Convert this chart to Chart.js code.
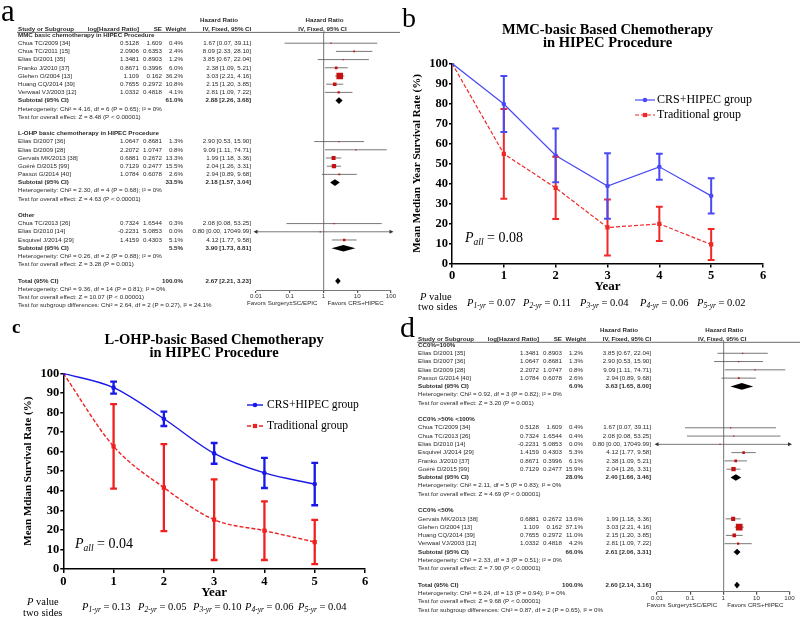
<!DOCTYPE html>
<html>
<head>
<meta charset="utf-8">
<title>CRS+HIPEC meta-analysis</title>
<script src="https://cdn.jsdelivr.net/npm/chart.js@4.4.1/dist/chart.umd.min.js"></script>
<style>
  html, body { margin: 0; padding: 0; background: #fff; }
  #page { position: relative; width: 800px; height: 624px; overflow: hidden; background: #fff; }
  canvas { position: absolute; }
</style>
</head>
<body>
<div id="page">
  <canvas id="chart-a" width="400" height="310" style="left:0;top:0"></canvas>
  <canvas id="chart-b" width="400" height="310" style="left:400px;top:0"></canvas>
  <canvas id="chart-c" width="400" height="314" style="left:0;top:310px"></canvas>
  <canvas id="chart-d" width="400" height="314" style="left:400px;top:310px"></canvas>
</div>
<script>
const SERIF = '"Liberation Serif", "Times New Roman", serif';
const SANS = '"Liberation Sans", Arial, sans-serif';

// forest axis ticks
const forestTicks = [0.01, 0.1, 1, 10, 100];

// ---- panel a: by agent used in HIPEC ----
// [study, log[HR], SE, weight %, HR, low, high]
const aGroupNames = ["MMC basic chemotherapy in HIPEC Procedure", "L-OHP basic chemotherapy in HIPEC Procedure", "Other"];
const aMMC = [
    ["Chua TC/2009 [34]", "0.5128", "1.609", 0.4, 1.67, 0.07, 39.11],
    ["Chua TC/2011 [15]", "2.0906", "0.6353", 2.4, 8.09, 2.33, 28.10],
    ["Elias D/2001 [35]", "1.3481", "0.8903", 1.2, 3.85, 0.67, 22.04],
    ["Franko J/2010 [37]", "0.8671", "0.3996", 6.0, 2.38, 1.09, 5.21],
    ["Glehen O/2004 [13]", "1.109", "0.162", 36.2, 3.03, 2.21, 4.16],
    ["Huang CQ/2014 [39]", "0.7655", "0.2972", 10.8, 2.15, 1.20, 3.85],
    ["Verwaal VJ/2003 [12]", "1.0332", "0.4818", 4.1, 2.81, 1.09, 7.22]
];
const aLOHP = [
    ["Elias D/2007 [36]", "1.0647", "0.8681", 1.3, 2.90, 0.53, 15.90],
    ["Elias D/2009 [28]", "2.2072", "1.0747", 0.8, 9.09, 1.11, 74.71],
    ["Gervais MK/2013 [38]", "0.6881", "0.2672", 13.3, 1.99, 1.18, 3.36],
    ["Goéré D/2015 [99]", "0.7129", "0.2477", 15.5, 2.04, 1.26, 3.31],
    ["Passot G/2014 [40]", "1.0784", "0.6078", 2.6, 2.94, 0.89, 9.68]
];
const aOther = [
    ["Chua TC/2013 [26]", "0.7324", "1.6544", 0.3, 2.08, 0.08, 53.25],
    ["Elias D/2010 [14]", "-0.2231", "5.0853", 0.0, 0.80, 0.00, 17049.99],
    ["Esquivel J/2014 [29]", "1.4159", "0.4303", 5.1, 4.12, 1.77, 9.58]
];
// [weight %, HR, low, high]
const aSubtotals = [[61.0, 2.88, 2.26, 3.68], [33.5, 2.18, 1.57, 3.04], [5.5, 3.90, 1.73, 8.81]];
const aHeterogeneity = [
    "Heterogeneity: Chi² = 4.16, df = 6 (P = 0.65); I² = 0%",
    "Heterogeneity: Chi² = 2.30, df = 4 (P = 0.68); I² = 0%",
    "Heterogeneity: Chi² = 0.26, df = 2 (P = 0.88); I² = 0%"
];
const aOverall = [
    "Test for overall effect: Z = 8.48 (P < 0.00001)",
    "Test for overall effect: Z = 4.63 (P < 0.00001)",
    "Test for overall effect: Z = 3.28 (P = 0.001)"
];
const aTotal = [100.0, 2.67, 2.21, 3.23];
const aTotalNotes = [
    "Heterogeneity: Chi² = 9.36, df = 14 (P = 0.81); I² = 0%",
    "Test for overall effect: Z = 10.07 (P < 0.00001)",
    "Test for subgroup differences: Chi² = 2.64, df = 2 (P = 0.27), I² = 24.1%"
];

// ---- panel d: by completeness of cytoreduction ----
const dGroupNames = ["CC0%=100%", "CC0% >50% <100%", "CC0% <50%"];
const dFull = [
    ["Elias D/2001 [35]", "1.3481", "0.8903", 1.2, 3.85, 0.67, 22.04],
    ["Elias D/2007 [36]", "1.0647", "0.8681", 1.3, 2.90, 0.53, 15.90],
    ["Elias D/2009 [28]", "2.2072", "1.0747", 0.8, 9.09, 1.11, 74.71],
    ["Passot G/2014 [40]", "1.0784", "0.6078", 2.6, 2.94, 0.89, 9.68]
];
const dMid = [
    ["Chua TC/2009 [34]", "0.5128", "1.609", 0.4, 1.67, 0.07, 39.11],
    ["Chua TC/2013 [26]", "0.7324", "1.6544", 0.4, 2.08, 0.08, 53.25],
    ["Elias D/2010 [14]", "-0.2231", "5.0853", 0.0, 0.80, 0.00, 17049.99],
    ["Esquivel J/2014 [29]", "1.4159", "0.4303", 5.3, 4.12, 1.77, 9.58],
    ["Franko J/2010 [37]", "0.8671", "0.3996", 6.1, 2.38, 1.09, 5.21],
    ["Goéré D/2015 [99]", "0.7129", "0.2477", 15.9, 2.04, 1.26, 3.31]
];
const dLow = [
    ["Gervais MK/2013 [38]", "0.6881", "0.2672", 13.6, 1.99, 1.18, 3.36],
    ["Glehen O/2004 [13]", "1.109", "0.162", 37.1, 3.03, 2.21, 4.16],
    ["Huang CQ/2014 [39]", "0.7655", "0.2972", 11.0, 2.15, 1.20, 3.85],
    ["Verwaal VJ/2003 [12]", "1.0332", "0.4818", 4.2, 2.81, 1.09, 7.22]
];
const dSubtotals = [[6.0, 3.63, 1.65, 8.00], [28.0, 2.40, 1.66, 3.46], [66.0, 2.61, 2.06, 3.31]];
const dHeterogeneity = [
    "Heterogeneity: Chi² = 0.92, df = 3 (P = 0.82); I² = 0%",
    "Heterogeneity: Chi² = 2.11, df = 5 (P = 0.83); I² = 0%",
    "Heterogeneity: Chi² = 2.33, df = 3 (P = 0.51); I² = 0%"
];
const dOverall = [
    "Test for overall effect: Z = 3.20 (P = 0.001)",
    "Test for overall effect: Z = 4.69 (P < 0.00001)",
    "Test for overall effect: Z = 7.90 (P < 0.00001)"
];
const dTotal = [100.0, 2.60, 2.14, 3.16];
const dTotalNotes = [
    "Heterogeneity: Chi² = 6.24, df = 13 (P = 0.94); I² = 0%",
    "Test for overall effect: Z = 9.68 (P < 0.00001)",
    "Test for subgroup differences: Chi² = 0.87, df = 2 (P = 0.65), I² = 0%"
];

// ---- panels b and c: mean survival by year ----
const years = [0, 1, 2, 3, 4, 5];
const mmcCrsMean = [100, 79.7, 54.0, 38.7, 48.3, 33.8];
const mmcCrsSD = [0, 14.0, 13.4, 16.4, 6.5, 8.8];
const mmcTradMean = [100, 54.8, 37.8, 18.0, 19.8, 9.5];
const mmcTradSD = [0, 22.4, 15.6, 14.0, 8.5, 7.7];
const mmcPValues = ["0.07", "0.11", "0.04", "0.06", "0.02"];
const mmcPAll = "0.08";

const lohpCrsMean = [100, 92.7, 76.8, 59.1, 49.1, 43.4];
const lohpCrsSD = [0, 3.1, 3.7, 5.3, 7.7, 10.8];
const lohpTradMean = [100, 62.7, 41.6, 25.2, 19.6, 13.8];
const lohpTradSD = [0, 21.6, 22.2, 20.6, 15.0, 11.3];
const lohpPValues = ["0.13", "0.05", "0.10", "0.06", "0.04"];
const lohpPAll = "0.04";

// text columns of the forest tables (canvas px)
const forestCols = { study: 18, logHR: 139, se: 162, weight: 183, weightHead: 186, ci: 251, ciHead1: 219, ciHead2: 227 };

function buildRows(names, groups, subtotals, hetero, overall, total, totalNotes) {
    const rows = [];
    groups.forEach((g, i) => {
        rows.push({ kind: "header", text: names[i] });
        g.forEach(s => rows.push({ kind: "study", name: s[0], logHR: s[1], se: s[2], weight: s[3], hr: s[4], lo: s[5], hi: s[6] }));
        const st = subtotals[i];
        rows.push({ kind: "subtotal", name: "Subtotal (95% CI)", weight: st[0], hr: st[1], lo: st[2], hi: st[3] });
        rows.push({ kind: "note", text: hetero[i] });
        rows.push({ kind: "note", text: overall[i] });
        rows.push({ kind: "blank" });
    });
    rows.push({ kind: "total", name: "Total (95% CI)", weight: total[0], hr: total[1], lo: total[2], hi: total[3] });
    totalNotes.forEach(t => rows.push({ kind: "note", text: t }));
    return rows;
}

function ciText(r) {
    return r.hr.toFixed(2) + " [" + r.lo.toFixed(2) + ", " + r.hi.toFixed(2) + "]";
}

const forestPlugin = {
    id: "forestTable",
    beforeDatasetsDraw(chart, args, o) {
        const { ctx, scales: { x, y } } = chart;
        ctx.save();
        o.rows.forEach((r, i) => {
            const py = y.getPixelForValue(i);
            if (r.kind === "study") {
                const x0 = x.getPixelForValue(Math.max(r.lo, 0.01));
                const x1 = x.getPixelForValue(Math.min(r.hi, 100));
                ctx.strokeStyle = "#555";
                ctx.lineWidth = 0.8;
                ctx.beginPath();
                ctx.moveTo(x0, py);
                ctx.lineTo(x1, py);
                ctx.stroke();
                ctx.fillStyle = "#333";
                if (r.lo < 0.01) arrowHead(ctx, x0, py, -1);
                if (r.hi > 100) arrowHead(ctx, x1, py, 1);
            } else if (r.kind === "subtotal" || r.kind === "total") {
                const xl = x.getPixelForValue(r.lo), xm = x.getPixelForValue(r.hr), xr = x.getPixelForValue(r.hi);
                ctx.fillStyle = "#000";
                ctx.beginPath();
                ctx.moveTo(xl, py);
                ctx.lineTo(xm, py - 3.3);
                ctx.lineTo(xr, py);
                ctx.lineTo(xm, py + 3.3);
                ctx.closePath();
                ctx.fill();
            }
        });
        ctx.restore();
    },
    afterDraw(chart, args, o) {
        const { ctx, chartArea, scales: { x, y } } = chart;
        const c = forestCols;
        const one = x.getPixelForValue(1);
        ctx.save();
        ctx.fillStyle = "#2a2a2a";
        ctx.textBaseline = "middle";
        const put = (t, px, py, align, bold) => {
            ctx.font = (bold ? "bold " : "") + "6.2px " + SANS;
            ctx.textAlign = align;
            ctx.fillText(t, px, py);
        };

        // column headers
        const h1 = chartArea.top - 12, h2 = chartArea.top - 3;
        put("Hazard Ratio", c.ciHead1, h1, "center", true);
        put("Hazard Ratio", one + 1, h1, "center", true);
        put("Study or Subgroup", c.study, h2, "left", true);
        put("log[Hazard Ratio]", c.logHR, h2, "right", true);
        put("SE", c.se, h2, "right", true);
        put("Weight", c.weightHead, h2, "right", true);
        put("IV, Fixed, 95% CI", c.ciHead2, h2, "center", true);
        put("IV, Fixed, 95% CI", one - 1, h2, "center", true);
        ctx.strokeStyle = "#444";
        ctx.lineWidth = 0.8;
        ctx.beginPath();
        ctx.moveTo(c.study - 1, chartArea.top);
        ctx.lineTo(chart.width, chartArea.top);
        ctx.stroke();

        // table rows
        o.rows.forEach((r, i) => {
            const py = y.getPixelForValue(i);
            if (r.kind === "header") {
                put(r.text, c.study, py, "left", true);
            } else if (r.kind === "note") {
                put(r.text, c.study, py, "left", false);
            } else if (r.kind === "study") {
                put(r.name, c.study, py, "left", false);
                put(r.logHR, c.logHR, py, "right", false);
                put(r.se, c.se, py, "right", false);
                put(r.weight.toFixed(1) + "%", c.weight, py, "right", false);
                put(ciText(r), c.ci, py, "right", false);
            } else if (r.kind === "subtotal" || r.kind === "total") {
                put(r.name, c.study, py, "left", true);
                put(r.weight.toFixed(1) + "%", c.weight, py, "right", true);
                put(ciText(r), c.ci, py, "right", true);
            }
        });

        // favours labels
        const fy = chartArea.bottom + 13.5;
        put("Favors Surgery±SC/EPIC", one - 6, fy, "right", false);
        put("Favors CRS+HIPEC", one + 4, fy, "left", false);

        // panel letter
        ctx.fillStyle = "#000";
        ctx.textAlign = "left";
        ctx.textBaseline = "alphabetic";
        ctx.font = o.letterFont;
        ctx.fillText(o.letter, o.letterX, o.letterY);
        ctx.restore();
    }
};

function arrowHead(ctx, px, py, dir) {
    ctx.beginPath();
    ctx.moveTo(px + dir * 2.5, py);
    ctx.lineTo(px - dir * 1.5, py - 2);
    ctx.lineTo(px - dir * 1.5, py + 2);
    ctx.closePath();
    ctx.fill();
}

function renderForest(canvasId, rows, box) {
    const points = [];
    rows.forEach((r, i) => {
        if (r.kind === "study") points.push({ x: r.hr, y: i, w: r.weight });
    });
    return new Chart(document.getElementById(canvasId), {
        type: "scatter",
        data: {
            datasets: [{
                data: points,
                pointStyle: "rect",
                backgroundColor: "#c41010",
                borderWidth: 0,
                pointRadius: (ctx) => {
                    const p = ctx.raw;
                    const side = Math.max(1.2, 1.1 * Math.sqrt(p ? p.w : 0));
                    return side / Math.SQRT2;
                }
            }]
        },
        options: {
            responsive: false,
            animation: false,
            layout: { padding: { left: box.left, right: box.right, top: box.top, bottom: box.bottom } },
            plugins: {
                legend: { display: false },
                tooltip: { enabled: false },
                forestTable: { rows: rows, letter: box.letter, letterX: box.letterX, letterY: box.letterY, letterFont: box.letterFont }
            },
            scales: {
                x: {
                    type: "logarithmic",
                    min: 0.01,
                    max: 100,
                    afterBuildTicks: (axis) => { axis.ticks = forestTicks.map(v => ({ value: v })); },
                    afterFit: (axis) => { axis.height = box.axisHeight; },
                    ticks: {
                        autoSkip: false,
                        maxRotation: 0,
                        padding: 0,
                        color: "#333",
                        font: { family: SANS, size: 6.2 },
                        callback: (v) => String(v)
                    },
                    grid: {
                        color: (ctx) => (ctx.tick && ctx.tick.value === 1 ? "#8a8a8a" : "rgba(0,0,0,0)"),
                        tickColor: "#555",
                        lineWidth: 1.2,
                        tickLength: 3
                    },
                    border: { color: "#555", width: 0.8 }
                },
                y: {
                    type: "linear",
                    reverse: true,
                    min: box.rowMin,
                    max: box.rowMax,
                    display: false
                }
            }
        },
        plugins: [forestPlugin]
    });
}

// ---- survival line charts ----
const errorBars = {
    id: "errorBars",
    afterDatasetsDraw(chart, args, o) {
        const { ctx, scales: { x, y } } = chart;
        ctx.save();
        for (let d = chart.data.datasets.length - 1; d >= 0; d--) {
            const ds = chart.data.datasets[d];
            ctx.strokeStyle = ds.borderColor;
            ctx.lineWidth = o.width;
            ds.data.forEach((p, i) => {
                const e = ds.errors[i];
                if (!e) return;
                const px = x.getPixelForValue(p.x);
                const top = y.getPixelForValue(p.y + e);
                const bot = y.getPixelForValue(p.y - e);
                ctx.beginPath();
                ctx.moveTo(px, top); ctx.lineTo(px, bot);
                ctx.moveTo(px - o.cap, top); ctx.lineTo(px + o.cap, top);
                ctx.moveTo(px - o.cap, bot); ctx.lineTo(px + o.cap, bot);
                ctx.stroke();
            });
        }
        ctx.restore();
    }
};

function drawMarker(ctx, style, px, py, r, color) {
    ctx.fillStyle = color;
    ctx.beginPath();
    if (style === "rect") {
        const s = r * Math.SQRT1_2;
        ctx.rect(px - s, py - s, 2 * s, 2 * s);
    } else {
        ctx.arc(px, py, r, 0, Math.PI * 2);
    }
    ctx.fill();
}

function rich(ctx, px, py, parts) {
    let cx = px;
    parts.forEach(([t, font, dy]) => {
        ctx.font = font;
        ctx.fillText(t, cx, py + dy);
        cx += ctx.measureText(t).width;
    });
}

const survivalNotes = {
    id: "survivalNotes",
    afterDraw(chart, args, o) {
        const ctx = chart.ctx;
        ctx.save();
        // legend: line + marker + label
        chart.data.datasets.forEach((ds, i) => {
            const ly = o.legendY[i];
            ctx.strokeStyle = ds.borderColor;
            ctx.lineWidth = ds.borderWidth;
            ctx.setLineDash(ds.borderDash || []);
            ctx.beginPath();
            ctx.moveTo(o.legendX0, ly);
            ctx.lineTo(o.legendX1, ly);
            ctx.stroke();
            ctx.setLineDash([]);
            drawMarker(ctx, ds.pointStyle, (o.legendX0 + o.legendX1) / 2, ly, ds.pointRadius, ds.borderColor);
            ctx.fillStyle = "#000";
            ctx.textBaseline = "middle";
            ctx.textAlign = "left";
            ctx.font = o.legendFont + " " + SERIF;
            ctx.fillText(ds.label, o.legendTextX, ly);
        });

        ctx.fillStyle = "#000";
        ctx.textBaseline = "alphabetic";
        ctx.textAlign = "left";
        // P all
        rich(ctx, o.pAllX, o.pAllY, [
            ["P", "italic 14px " + SERIF, 0],
            ["all", "italic 9.5px " + SERIF, 3],
            [" = " + o.pAll, "14px " + SERIF, 0]
        ]);
        // per-year p values
        rich(ctx, o.labelX, o.labelY, [["P", "italic 10.5px " + SERIF, 0], [" value", "10.5px " + SERIF, 0]]);
        ctx.font = "10.5px " + SERIF;
        ctx.fillText("two sides", o.label2X, o.labelY + 10.5);
        o.pXs.forEach((px, i) => {
            rich(ctx, px, o.pY, [
                ["P", "italic 10.5px " + SERIF, 0],
                [(i + 1) + "-yr", "italic 7.5px " + SERIF, 2.5],
                [" = " + o.pValues[i], "10.5px " + SERIF, 0]
            ]);
        });
        // panel letter
        ctx.font = o.letterFont;
        ctx.fillText(o.letter, o.letterX, o.letterY);
        ctx.restore();
    }
};

function renderSurvival(canvasId, cfg) {
    const tickFont = { family: SERIF, size: 12.5, weight: "bold" };
    return new Chart(document.getElementById(canvasId), {
        type: "line",
        data: {
            datasets: [
                {
                    label: "CRS+HIPEC group",
                    data: years.map((yr, i) => ({ x: yr, y: cfg.crsMean[i] })),
                    errors: cfg.crsSD,
                    borderColor: cfg.blue,
                    backgroundColor: cfg.blue,
                    borderWidth: cfg.lineWidth,
                    pointStyle: "circle",
                    pointRadius: 2.3,
                    pointBorderWidth: 0,
                    cubicInterpolationMode: cfg.smooth ? "monotone" : "default",
                    tension: 0
                },
                {
                    label: "Traditional group",
                    data: years.map((yr, i) => ({ x: yr, y: cfg.tradMean[i] })),
                    errors: cfg.tradSD,
                    borderColor: cfg.red,
                    backgroundColor: cfg.red,
                    borderWidth: cfg.lineWidth,
                    borderDash: [4, 2],
                    pointStyle: "rect",
                    pointRadius: 3,
                    pointBorderWidth: 0,
                    cubicInterpolationMode: cfg.smooth ? "monotone" : "default",
                    tension: 0
                }
            ]
        },
        options: {
            responsive: false,
            animation: false,
            layout: { padding: { left: 0, right: cfg.rightPad, top: 0, bottom: 0 } },
            plugins: {
                legend: { display: false },
                tooltip: { enabled: false },
                title: {
                    display: true,
                    fullSize: false,
                    text: cfg.title,
                    color: "#000",
                    font: { family: SERIF, size: 14.5, weight: "bold", lineHeight: 0.92 },
                    padding: { top: 23.3, bottom: 13.4 }
                },
                errorBars: { width: cfg.barWidth, cap: 3.4 },
                survivalNotes: cfg.notes
            },
            scales: {
                x: {
                    type: "linear",
                    min: 0,
                    max: 6,
                    afterFit: (axis) => { axis.height = cfg.xAxisHeight; },
                    ticks: { stepSize: 1, color: "#000", font: tickFont, padding: 1 },
                    grid: { drawOnChartArea: false, color: "#000", lineWidth: 1.5, tickLength: 4 },
                    border: { color: "#000", width: 1.5 },
                    title: {
                        display: true,
                        text: "Year",
                        color: "#000",
                        font: { family: SERIF, size: 13, weight: "bold", lineHeight: 1.2 },
                        padding: { top: 0, bottom: cfg.xTitlePad }
                    }
                },
                y: {
                    min: 0,
                    max: 100,
                    afterFit: (axis) => { axis.width = cfg.yAxisWidth; },
                    ticks: { stepSize: 10, color: "#000", font: tickFont, padding: 1 },
                    grid: { drawOnChartArea: false, color: "#000", lineWidth: 1.5, tickLength: 3 },
                    border: { color: "#000", width: 1.5 },
                    title: {
                        display: true,
                        text: cfg.yTitle,
                        color: "#000",
                        font: { family: SERIF, size: 11, weight: "bold", lineHeight: 1.2 },
                        padding: { top: cfg.yTitlePad, bottom: 0 }
                    }
                }
            }
        },
        plugins: [errorBars, survivalNotes]
    });
}

// ---- draw everything ----
renderForest("chart-a",
    buildRows(aGroupNames, [aMMC, aLOHP, aOther], aSubtotals, aHeterogeneity, aOverall, aTotal, aTotalNotes),
    { left: 256, right: 9, top: 32.4, bottom: 0, axisHeight: 20, rowMin: -0.317, rowMax: 31.1,
      letter: "a", letterX: 1, letterY: 20.5, letterFont: "31px " + SERIF });

renderForest("chart-d",
    buildRows(dGroupNames, [dFull, dMid, dLow], dSubtotals, dHeterogeneity, dOverall, dTotal, dTotalNotes),
    { left: 257, right: 10.5, top: 32.3, bottom: 0, axisHeight: 32.3, rowMin: -0.326, rowMax: 29.8,
      letter: "d", letterX: 0, letterY: 27, letterFont: "30px " + SERIF });

renderSurvival("chart-b", {
    title: ["MMC-basic Based Chemotherapy", "in HIPEC Procedure"],
    yTitle: "Mean Median Year Survival Rate (%)",
    crsMean: mmcCrsMean, crsSD: mmcCrsSD, tradMean: mmcTradMean, tradSD: mmcTradSD,
    blue: "#4a4af5", red: "#f02828", lineWidth: 1.2, barWidth: 2, smooth: false,
    rightPad: 37, yAxisWidth: 52, xAxisHeight: 46.5, xTitlePad: 15.2, yTitlePad: 10.4,
    notes: {
        legendX0: 235, legendX1: 255, legendTextX: 257, legendY: [100, 115], legendFont: "12px",
        pAll: mmcPAll, pAllX: 65, pAllY: 241.5,
        labelX: 20, label2X: 18, labelY: 299.5,
        pXs: [67, 123, 180, 240, 297], pY: 305.5, pValues: mmcPValues,
        letter: "b", letterX: 2, letterY: 26.5, letterFont: "28px " + SERIF
    }
});

renderSurvival("chart-c", {
    title: ["L-OHP-basic Based Chemotherapy", "in HIPEC Procedure"],
    yTitle: "Mean Mdian Survival Rate (%)",
    crsMean: lohpCrsMean, crsSD: lohpCrsSD, tradMean: lohpTradMean, tradSD: lohpTradSD,
    blue: "#1818e8", red: "#f02020", lineWidth: 1.4, barWidth: 2.3, smooth: true,
    rightPad: 35, yAxisWidth: 63.3, xAxisHeight: 55, xTitlePad: 23.5, yTitlePad: 21.1,
    notes: {
        legendX0: 247, legendX1: 263, legendTextX: 267, legendY: [95, 116], legendFont: "11.6px",
        pAll: lohpPAll, pAllX: 75, pAllY: 237.5,
        labelX: 27, label2X: 23, labelY: 295.2,
        pXs: [82, 138, 193, 245, 298], pY: 299.5, pValues: lohpPValues,
        letter: "c", letterX: 12, letterY: 23.3, letterFont: "bold 19px " + SERIF
    }
});
</script>
</body>
</html>
